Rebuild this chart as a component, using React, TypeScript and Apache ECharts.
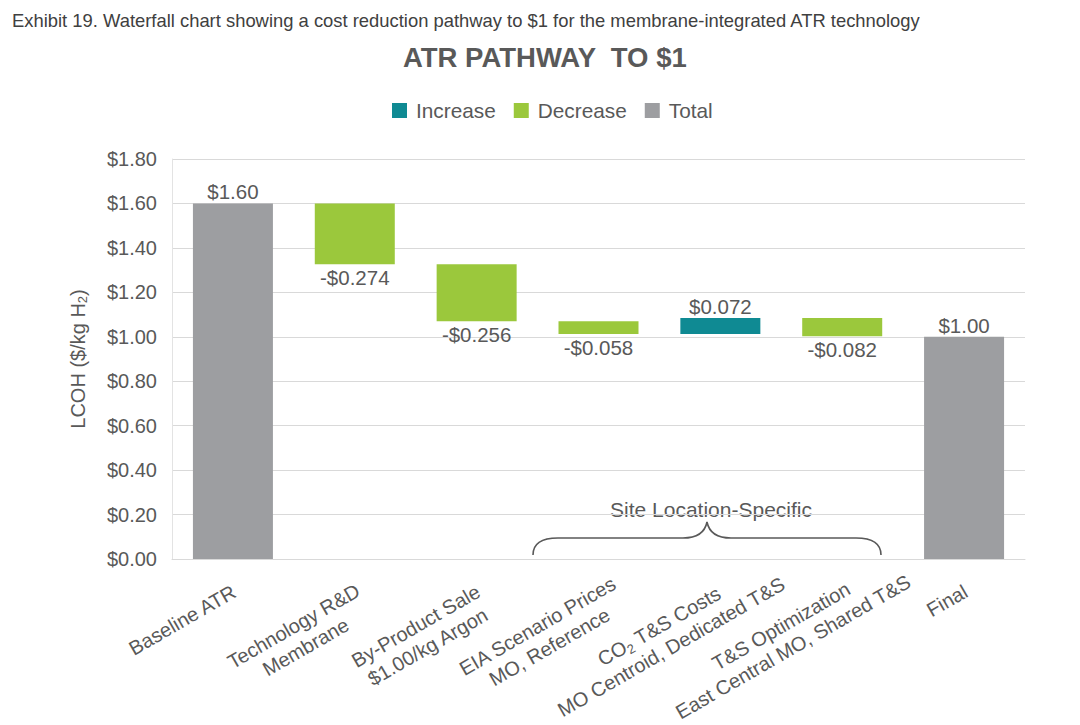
import React, { useEffect, useRef } from "react";
import * as echarts from "echarts";

const categories = [
  "Baseline ATR",
  "Technology R&D\nMembrane",
  "By-Product Sale\n$1.00/kg Argon",
  "EIA Scenario Prices\nMO, Reference",
  "CO{sub|2} T&S Costs\nMO Centroid, Dedicated T&S",
  "T&S Optimization\nEast Central MO, Shared T&S",
  "Final",
];
const totals: (number | null)[] = [1.6, null, null, null, null, null, 1.0];
const deltas: (number | null)[] = [null, -0.274, -0.256, -0.058, 0.072, -0.082, null];
const yTicks = [0, 0.2, 0.4, 0.6, 0.8, 1.0, 1.2, 1.4, 1.6, 1.8];
const legendNames = ["Increase", "Decrease", "Total"];

const FONT = "'Liberation Sans', Arial, sans-serif";
const TXT = "#595959";
const C_INC = "#0f8a93";
const C_DEC = "#9bc83c";
const C_TOT = "#9d9ea1";
const X_FONT = 20;
const MAX_BOX = 145;

const bracePath =
  "M0,33 C0,22 8,16 25,16 L150,16 C165,16 172,10 174,0 C176,10 183,16 198,16 L323,16 C340,16 348,22 348,33";
echarts.graphic.registerShape("brace", echarts.graphic.extendPath(bracePath, {}) as any);

function measure(text: string, size: number): number {
  const c = document.createElement("canvas").getContext("2d");
  if (!c) return text.length * size * 0.5;
  c.font = `${size}px 'Liberation Sans', Arial, sans-serif`;
  return c.measureText(text).width;
}

export default function App() {
  const ref = useRef<HTMLDivElement>(null);
  useEffect(() => {
    if (!ref.current) return;
    const chart = echarts.init(ref.current, null, { renderer: "svg" });

    // waterfall computation
    const base: (number | string)[] = [];
    const inc: (number | string)[] = [];
    const dec: (number | string)[] = [];
    const tot: (number | string)[] = [];
    let running = 0;
    categories.forEach((_, i) => {
      const t = totals[i];
      const d = deltas[i];
      if (t != null) {
        running = t;
        base.push("-");
        inc.push("-");
        dec.push("-");
        tot.push(t);
      } else if (d != null) {
        if (d >= 0) {
          base.push(running);
          inc.push(d);
          dec.push("-");
          running += d;
        } else {
          running += d;
          base.push(running);
          dec.push(-d);
          inc.push("-");
        }
        tot.push("-");
      }
    });

    const subStyle = {
      fontSize: 13,
      lineHeight: 24,
      verticalAlign: "bottom",
      color: TXT,
      fontFamily: FONT,
      padding: [9, 0, 0, 0],
    };

    // category label items: centred lines in a box whose right edge sits at the tick
    const xData = categories.map((c) => {
      const plain = c.replace(/\{sub\|([^}]*)\}/g, "$1");
      const w = Math.max(...plain.split("\n").map((l) => measure(l, X_FONT)));
      return {
        value: c,
        textStyle: {
          align: "center",
          verticalAlign: "top",
          fontFamily: FONT,
          fontSize: X_FONT,
          color: TXT,
          lineHeight: 24,
          padding: [0, Math.min(w, MAX_BOX) + 10, 0, 0],
          rich: { sub: subStyle },
        },
      };
    });

    const labelStyle = { fontFamily: FONT, fontSize: 20.5, color: TXT };

    chart.setOption({
      animation: false,
      textStyle: { fontFamily: FONT },
      title: [
        {
          text: "Exhibit 19. Waterfall chart showing a cost reduction pathway to $1 for the membrane-integrated ATR technology",
          left: 7,
          top: 6,
          textStyle: { fontFamily: FONT, fontSize: 18.4, fontWeight: "normal", color: "#404040" },
        },
        {
          text: "ATR PATHWAY  TO $1",
          left: 398,
          top: 38,
          textStyle: { fontFamily: FONT, fontSize: 27.5, fontWeight: "bold", color: TXT },
        },
      ],
      legend: {
        data: legendNames,
        top: 100,
        left: 392,
        padding: 0,
        itemWidth: 15,
        itemHeight: 15,
        itemGap: 18,
        icon: "rect",
        textStyle: { fontFamily: FONT, fontSize: 20.8, color: TXT, padding: [0, 0, 0, 4] },
      },
      grid: {
        left: 172,
        right: 55,
        top: 159,
        bottom: 166,
        containLabel: false,
        outerBoundsMode: "none",
      },
      xAxis: {
        type: "category",
        data: xData,
        axisLine: { show: true, lineStyle: { color: "#d9d9d9" } },
        axisTick: { show: false },
        axisLabel: {
          rotate: 30,
          interval: 0,
          margin: 18,
          align: "center",
          verticalAlign: "top",
          fontFamily: FONT,
          fontSize: X_FONT,
          color: TXT,
          lineHeight: 24,
          rich: { sub: subStyle },
        },
      },
      yAxis: {
        type: "value",
        min: 0,
        max: 1.8,
        interval: 0.2,
        name: "LCOH ($/kg H{sub|2})",
        nameLocation: "middle",
        nameGap: 83,
        nameRotate: 90,
        nameTextStyle: {
          fontFamily: FONT,
          fontSize: 20,
          color: TXT,
          rich: { sub: { fontSize: 13, fontFamily: FONT, color: TXT, padding: [9, 0, 0, 0] } },
        },
        axisLine: { show: true, lineStyle: { color: "#e3e3e3" } },
        axisTick: { show: false },
        splitLine: { lineStyle: { color: "#d9d9d9", width: 1 } },
        axisLabel: {
          margin: 15,
          fontFamily: FONT,
          fontSize: 20,
          color: TXT,
          formatter: (v: number) =>
            yTicks.some((t) => Math.abs(t - v) < 1e-9) ? "$" + v.toFixed(2) : "",
        },
      },
      series: [
        {
          name: "base",
          type: "bar",
          stack: "w",
          data: base,
          barWidth: 80,
          itemStyle: { color: "transparent" },
          emphasis: { disabled: true },
          silent: true,
        },
        {
          name: "Increase",
          type: "bar",
          stack: "w",
          data: inc,
          barWidth: 80,
          itemStyle: { color: C_INC },
          label: {
            show: true,
            position: "top",
            distance: 1,
            ...labelStyle,
            formatter: (p: any) => "$" + Number(p.value).toFixed(3),
          },
        },
        {
          name: "Decrease",
          type: "bar",
          stack: "w",
          data: dec,
          barWidth: 80,
          itemStyle: { color: C_DEC },
          label: {
            show: true,
            position: "bottom",
            distance: 3,
            ...labelStyle,
            formatter: (p: any) => "-$" + Number(p.value).toFixed(3),
          },
        },
        {
          name: "Total",
          type: "bar",
          stack: "w",
          data: tot,
          barWidth: 80,
          itemStyle: { color: C_TOT },
          label: {
            show: true,
            position: "top",
            distance: 1,
            ...labelStyle,
            formatter: (p: any) => "$" + Number(p.value).toFixed(2),
          },
        },
      ],
      graphic: [
        {
          type: "brace",
          x: 533,
          y: 522,
          style: { fill: "none", stroke: "#595959", lineWidth: 1.6 },
          silent: true,
        },
        {
          type: "text",
          x: 711,
          y: 509,
          style: {
            text: "Site Location-Specific",
            fontFamily: FONT,
            fontSize: 21,
            fill: TXT,
            align: "center",
            verticalAlign: "middle",
          },
          silent: true,
        },
      ],
    });
    return () => chart.dispose();
  }, []);
  return (
    <div
      ref={ref}
      style={{ position: "fixed", left: 0, top: 0, width: 1080, height: 725, background: "#fff" }}
    />
  );
}
